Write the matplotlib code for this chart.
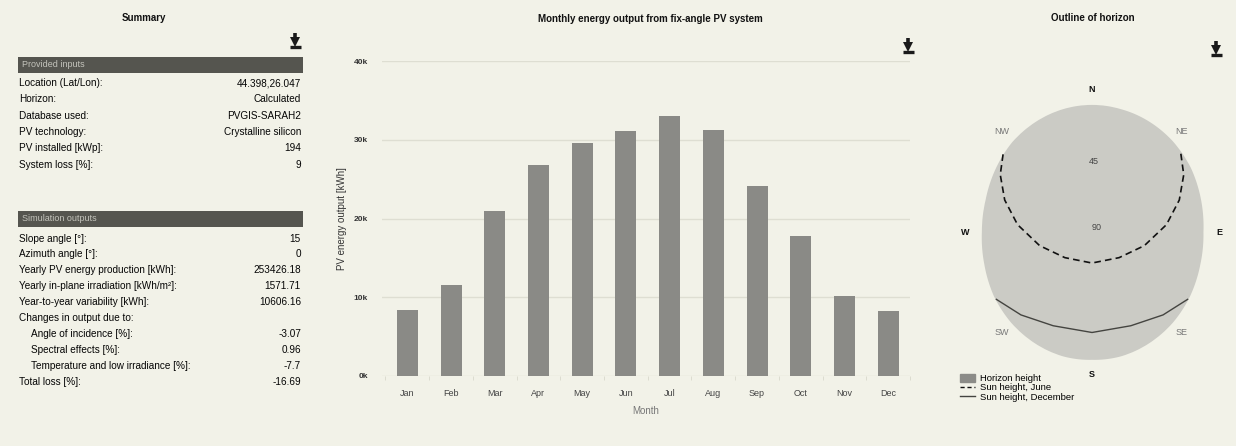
import matplotlib.pyplot as plt
from matplotlib.patches import Rectangle, Patch
from matplotlib.lines import Line2D
import numpy as np

W, H = 1236, 446
BG = '#f2f2e8'
plt.rcParams['font.family'] = ['Liberation Sans', 'DejaVu Sans']

# summary table
input_labels = ['Location (Lat/Lon):', 'Horizon:', 'Database used:', 'PV technology:',
                'PV installed [kWp]:', 'System loss [%]:']
input_values = ['44.398,26.047', 'Calculated', 'PVGIS-SARAH2', 'Crystalline silicon', '194', '9']
output_labels = ['Slope angle [°]:', 'Azimuth angle [°]:', 'Yearly PV energy production [kWh]:',
                 'Yearly in-plane irradiation [kWh/m²]:', 'Year-to-year variability [kWh]:',
                 'Changes in output due to:', 'Angle of incidence [%]:', 'Spectral effects [%]:',
                 'Temperature and low irradiance [%]:', 'Total loss [%]:']
output_values = ['15', '0', '253426.18', '1571.71', '10606.16', '', '-3.07', '0.96', '-7.7', '-16.69']
output_indent = [0, 0, 0, 0, 0, 0, 1, 1, 1, 0]

# monthly energy output
months = ['Jan', 'Feb', 'Mar', 'Apr', 'May', 'Jun', 'Jul', 'Aug', 'Sep', 'Oct', 'Nov', 'Dec']
pv_output = [8350, 11560, 21000, 26750, 29650, 31050, 33000, 31200, 24100, 17750, 10200, 8200]
y_ticks = [0, 10000, 20000, 30000, 40000]
y_ticklabels = ['0k', '10k', '20k', '30k', '40k']

# horizon outline (azimuth from north, elevation in degrees)
horizon_az = [0, 15, 30, 45, 60, 75, 90, 105, 120, 135, 150, 165,
              180, 195, 210, 225, 240, 255, 270, 285, 300, 315, 330, 345]
horizon_height = [4, 4, 3.5, 3, 3, 4, 5, 4.5, 3.5, 3, 3, 3,
                  3.5, 3, 3, 3, 3.5, 5, 6, 6, 5, 4, 4, 4]
june_az = [52, 61, 72, 85, 103, 130, 180, 230, 257, 275, 288, 299, 308]
june_elev = [4, 10, 20, 33, 49, 63, 69, 63, 49, 33, 20, 10, 4]
dec_az = [122, 136, 155, 180, 205, 224, 238]
dec_elev = [4, 12, 20, 22, 20, 12, 4]
compass = ['N', 'NE', 'E', 'SE', 'S', 'SW', 'W', 'NW']


def download_icon(ax, x, y):
    # little "download" glyph: shaft, arrow head and base bar
    ax.plot([x, x], [y - 14, y - 8], color='#1a1a1a', lw=2.6, solid_capstyle='butt')
    ax.plot([x], [y - 5.5], marker='v', ms=6.5, color='#1a1a1a', mew=0)
    ax.plot([x - 5.5, x + 5.5], [y - 0.5, y - 0.5], color='#1a1a1a', lw=2.4, solid_capstyle='butt')


fig = plt.figure(figsize=(W / 100, H / 100), dpi=100, facecolor=BG)

# overlay in pixel coordinates for the summary panel, titles and icons
ov = fig.add_axes([0, 0, 1, 1])
ov.set_xlim(0, W)
ov.set_ylim(H, 0)
ov.axis('off')

title_kw = dict(fontsize=7, fontweight='bold', ha='center', va='center', color='#111111')
ov.text(144, 18, 'Summary', **title_kw)
ov.text(650, 19, 'Monthly energy output from fix-angle PV system', **title_kw)
ov.text(1093, 18, 'Outline of horizon', **title_kw)
download_icon(ov, 295, 47)
download_icon(ov, 908, 52)
download_icon(ov, 1216, 55)

row_kw = dict(fontsize=7.2, va='center', color='#050505')
ov.add_patch(Rectangle((18, 57), 285, 15.5, color='#55554f', lw=0))
ov.text(22, 64.5, 'Provided inputs', fontsize=6.5, va='center', color='#c4c4bc')
for i, (lab, val) in enumerate(zip(input_labels, input_values)):
    y = 83 + 16.3 * i
    ov.text(19, y, lab, ha='left', **row_kw)
    ov.text(301, y, val, ha='right', **row_kw)

ov.add_patch(Rectangle((18, 211), 285, 15.5, color='#55554f', lw=0))
ov.text(22, 218.5, 'Simulation outputs', fontsize=6.5, va='center', color='#c4c4bc')
for i, (lab, val, ind) in enumerate(zip(output_labels, output_values, output_indent)):
    y = 238.5 + 15.9 * i
    ov.text(19 + 12 * ind, y, lab, ha='left', **row_kw)
    ov.text(301, y, val, ha='right', **row_kw)

# bar chart
ax = fig.add_axes([382 / W, 1 - 376 / H, 528 / W, 315 / H])
ax.set_facecolor('none')
x = np.arange(len(months))
ax.bar(x, pv_output, width=0.48, color='#8a8a86', zorder=2)
ax.set_xlim(-0.58, 11.46)
ax.set_ylim(0, 40000)
ax.set_yticks(y_ticks)
ax.set_yticklabels(y_ticklabels, fontsize=6, fontweight='bold', color='#333333')
ax.set_xticks(x)
ax.set_xticklabels(months, fontsize=6.5, color='#444444')
ax.set_xticks(np.arange(-0.5, 12, 1), minor=True)
ax.tick_params(axis='x', which='major', length=0, pad=9)
ax.tick_params(axis='y', length=0, pad=10)
ax.tick_params(axis='x', which='minor', length=3, color='#d8d8cc')
ax.grid(axis='y', color='#deded2', lw=1, zorder=0)
for s in ax.spines.values():
    s.set_visible(False)
ax.set_xlabel('Month', fontsize=7, color='#777777', labelpad=6)
ax.set_ylabel('PV energy output [kWh]', fontsize=7, color='#333333', labelpad=5)

# horizon polar chart
axp = fig.add_axes([974 / W, 1 - 365 / H, 236 / W, 266 / H], projection='polar')
axp.set_aspect('auto')
axp.set_facecolor('none')
axp.set_theta_zero_location('N')
axp.set_theta_direction(-1)
axp.set_ylim(0, 90)
theta = np.deg2rad(horizon_az + [360])
r = 90 - np.array(horizon_height + [horizon_height[0]])
poly = axp.fill(theta, r, color='#cbcbc5', lw=0)[0]
poly.get_path()._interpolation_steps = 40
axp.plot(np.deg2rad(june_az), 90 - np.array(june_elev), color='#111111',
         lw=1.2, ls=(0, (4, 2.5)))
axp.plot(np.deg2rad(dec_az), 90 - np.array(dec_elev), color='#444440', lw=1)
axp.set_xticks(np.deg2rad(np.arange(0, 360, 45)))
axp.set_xticklabels(compass, fontsize=6.5)
for lab, name in zip(axp.get_xticklabels(), compass):
    if len(name) == 1:
        lab.set_color('#111111')
        lab.set_fontweight('bold')
    else:
        lab.set_color('#777777')
axp.set_yticks([0, 45])
axp.set_yticklabels(['90', '45'], fontsize=6.5, color='#444444')
axp.set_rlabel_position(-3)
axp.grid(False)
axp.spines['polar'].set_visible(False)
axp.tick_params(axis='x', pad=-4)

handles = [Patch(color='#8c8c88'),
           Line2D([], [], color='#111111', lw=1, ls=(0, (3, 2))),
           Line2D([], [], color='#444440', lw=1)]
fig.legend(handles, ['Horizon height', 'Sun height, June', 'Sun height, December'],
           loc='upper left', bbox_to_anchor=(955 / W, 1 - 369 / H), frameon=False,
           fontsize=6.8, handlelength=1.6, handleheight=0.9, labelspacing=0.02,
           handletextpad=0.5, borderpad=0)

fig.savefig('out.png', dpi=100, facecolor=BG)
